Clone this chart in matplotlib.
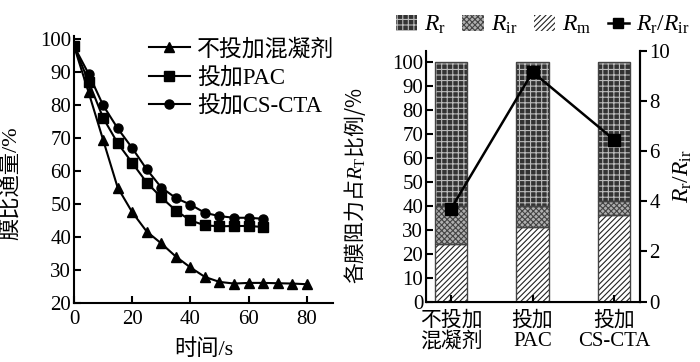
import numpy as np
import matplotlib
matplotlib.use("Agg")
import matplotlib.pyplot as plt
from matplotlib.patches import Patch
from matplotlib.lines import Line2D

plt.rcParams['font.family'] = ['Liberation Serif', 'Noto Sans CJK SC']
# custom mathtext: italic R in serif, upright subscripts via \mathsf
plt.rcParams['mathtext.fontset'] = 'custom'
plt.rcParams['mathtext.rm'] = 'Liberation Serif'
plt.rcParams['mathtext.it'] = 'Liberation Serif:italic'
plt.rcParams['mathtext.sf'] = 'Liberation Serif'
plt.rcParams['hatch.linewidth'] = 0.8

# left panel: relative flux over time
t_none = [0, 5, 10, 15, 20, 25, 30, 35, 40, 45, 50, 55, 60, 65, 70, 75, 80]
flux_none = [98, 84, 69.5, 55, 47.5, 41.6, 38, 34, 30.7, 27.8, 26.3, 25.8, 26, 26, 25.9, 25.8, 25.6]
t_pac = [0, 5, 10, 15, 20, 25, 30, 35, 40, 45, 50, 55, 60, 65]
flux_pac = [98, 87.2, 76.2, 68.5, 62.5, 56.5, 52, 48, 45, 43.5, 43.2, 43.3, 43.3, 43]
t_cs = [0, 5, 10, 15, 20, 25, 30, 35, 40, 45, 50, 55, 60, 65]
flux_cs = [98, 89.6, 80, 73, 67, 60.5, 55, 51.8, 49.8, 47.3, 46.3, 45.8, 45.8, 45.5]

# right panel: resistance shares and Rr/Rir
groups = ['不投加\n混凝剂', '投加\nPAC', '投加\nCS-CTA']
r_m = [24, 31, 36]
r_ir = [16, 9, 6]
r_r = [60, 60, 58]
ratio = [3.7, 9.15, 6.45]

fig = plt.figure(figsize=(7, 3.62), dpi=100)

# ---- left
ax1 = fig.add_axes([0.1057, 0.164, 0.37, 0.736])
ax1.plot(t_none, flux_none, 'k-^', ms=6.5, lw=1.5, label='不投加混凝剂')
ax1.plot(t_pac, flux_pac, 'k-s', ms=6.5, lw=1.5, label='投加PAC')
ax1.plot(t_cs, flux_cs, 'k-o', ms=6.5, lw=1.5, label='投加CS-CTA')
ax1.set_xlim(0, 89)
ax1.set_ylim(20, 101)
ax1.set_xticks([0, 20, 40, 60, 80])
ax1.set_yticks(range(20, 101, 10))
ax1.spines['top'].set_visible(False)
ax1.spines['right'].set_visible(False)
for s in ['left', 'bottom']:
    ax1.spines[s].set_linewidth(1.5)
ax1.tick_params(direction='in', labelsize=15, width=1.5, length=5, pad=2)
ax1.tick_params(axis='x', pad=5)
ax1.set_xlabel('时间/s', fontsize=16, labelpad=8)
ax1.set_ylabel('膜比通量/%', fontsize=16)
ax1.yaxis.set_label_coords(-0.2, 0.45)
ax1.legend(loc='upper right', bbox_to_anchor=(1.04, 1.025), frameon=False,
           fontsize=16.5, handlelength=1.8, handletextpad=0.3, labelspacing=0.3,
           borderaxespad=0)

# ---- right
ax2 = fig.add_axes([0.6086, 0.1666, 0.3054, 0.6934])
x = np.arange(len(groups))
w = 0.4
bottom_ir = np.array(r_m)
bottom_r = np.array(r_m) + np.array(r_ir)
ax2.bar(x, r_m, w, color='white', edgecolor='#222222', hatch='//////', lw=0)
ax2.bar(x, r_ir, w, bottom=bottom_ir, color='#b0b0b0', edgecolor='#444444', hatch='xxxxxx', lw=0)
ax2.bar(x, r_r, w, bottom=bottom_r, color='#333333', edgecolor='#bbbbbb', hatch='+++', lw=0)
for b, h in [(0, r_m), (bottom_ir, r_ir), (bottom_r, r_r)]:
    ax2.bar(x, h, w, bottom=b, fill=False, edgecolor='#444444', lw=1)
ax2.set_xlim(-0.306, 2.314)
ax2.set_ylim(0, 104.6)
ax2.set_yticks(range(0, 101, 10))
ax2.set_xticks(x)
ax2.set_xticklabels(groups, fontsize=16, linespacing=1.05)
ax2.spines['top'].set_visible(False)
for s in ['left', 'bottom', 'right']:
    ax2.spines[s].set_linewidth(1.5)
ax2.tick_params(direction='in', labelsize=15, width=1.5, length=5, pad=2)
ax2.tick_params(axis='x', pad=7)
ax2.set_ylabel('各膜阻力占$R_\\mathsf{T}$比例/%', fontsize=15, family='Noto Sans CJK SC')
ax2.yaxis.set_label_coords(-0.27, 0.46)

ax3 = ax2.twinx()
ax3.plot(x, ratio, 'k-s', ms=8, lw=1.8)
ax3.set_ylim(0, 10)
ax3.set_yticks([0, 2, 4, 6, 8, 10])
ax3.spines['top'].set_visible(False)
ax3.spines['right'].set_linewidth(1.5)
ax3.tick_params(direction='out', labelsize=15, width=1.5, length=5, pad=2)
ax3.set_ylabel('$R_\\mathsf{r}/R_\\mathsf{ir}$', fontsize=17, labelpad=1)

handles = [
    Patch(facecolor='#333333', edgecolor='#bbbbbb', hatch='+++', lw=0),
    Patch(facecolor='#b0b0b0', edgecolor='#444444', hatch='xxxxxx', lw=0),
    Patch(facecolor='white', edgecolor='#222222', hatch='//////', lw=0),
    Line2D([], [], color='k', marker='s', ms=7, lw=1.8),
]
labels = ['$R_\\mathsf{r}$', '$R_\\mathsf{ir}$', '$R_\\mathsf{m}$', '$R_\\mathsf{r}/R_\\mathsf{ir}$']
fig.legend(handles, labels, loc='upper right', bbox_to_anchor=(1.005, 1.0), ncol=4,
           frameon=False, fontsize=17, handlelength=0.9, handleheight=0.7,
           handletextpad=0.3, columnspacing=0.7, borderaxespad=0.2)

fig.savefig('out.png', dpi=100)
